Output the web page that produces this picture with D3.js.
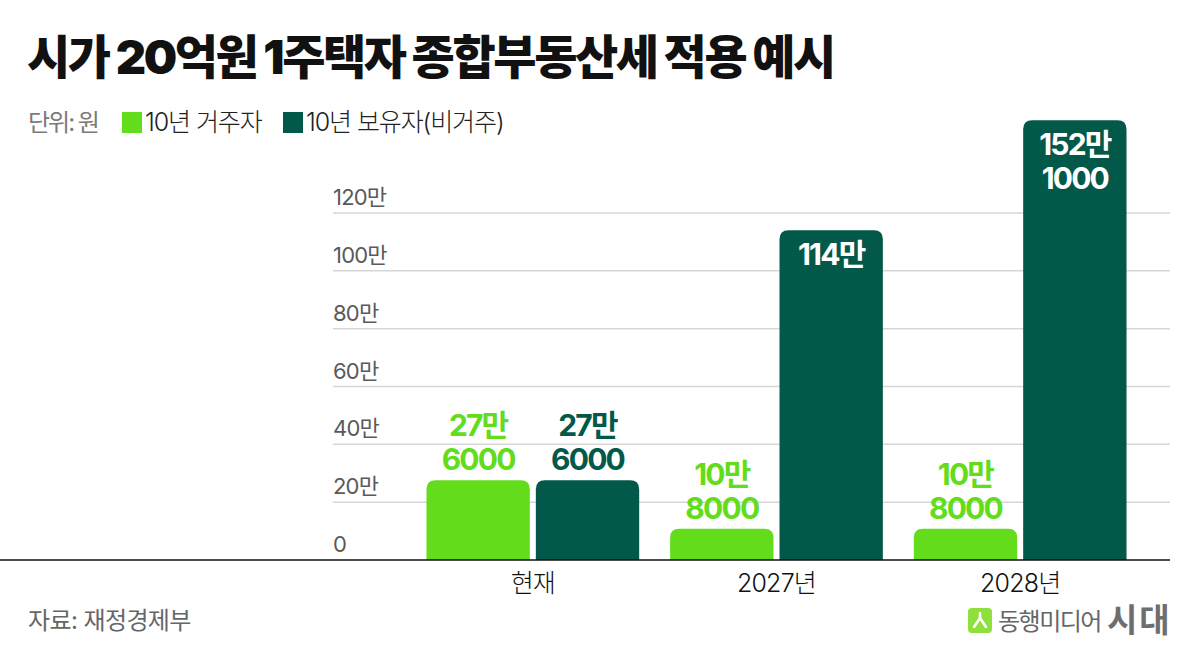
<!DOCTYPE html>
<html>
<head>
<meta charset="utf-8">
<script src="https://cdn.jsdelivr.net/npm/d3@7/dist/d3.min.js"></script>
<style>
  html, body { margin: 0; padding: 0; background: #fff; }
  svg { display: block; font-family: Inter, "Noto Sans CJK KR", sans-serif; }
</style>
</head>
<body>
<svg id="chart" width="1200" height="660"></svg>
<script>
// ---- data ----
const title = "시가 20억원 1주택자 종합부동산세 적용 예시";
const unitLabel = "단위: 원";
const categories = ["현재", "2027년", "2028년"];
const seriesNames = ["10년 거주자", "10년 보유자(비거주)"];
const residentValues = [276000, 108000, 108000];
const nonResidentValues = [276000, 1140000, 1521000];
const yTickValues = [0, 200000, 400000, 600000, 800000, 1000000, 1200000];
const sourceText = "자료: 재정경제부";
const brandText = "동행미디어";
const brandBold = "시대";

// ---- styles ----
const colors = ["#63dc1c", "#02594a"];
const svg = d3.select("#chart");

const y = d3.scaleLinear().domain([0, 1200000]).range([560, 213]);
const x0 = d3.scaleBand().domain(categories).range([411, 1142])
  .paddingInner(0.127).paddingOuter(0.0635);
const x1 = d3.scaleBand().domain(seriesNames).range([0, x0.bandwidth()]).paddingInner(0.055);

// title
svg.append("text").attr("x", 27).attr("y", 74)
  .attr("font-size", 47).attr("font-weight", 900).attr("letter-spacing", -2.4)
  .attr("fill", "#111").text(title);

// legend
svg.append("text").attr("x", 28).attr("y", 131)
  .attr("font-size", 24).attr("fill", "#7a7a7a").attr("letter-spacing", -2)
  .text(unitLabel);
const legendX = [122, 283];
seriesNames.forEach((s, i) => {
  svg.append("rect").attr("x", legendX[i]).attr("y", 112).attr("width", 20).attr("height", 21)
    .attr("fill", colors[i]);
  svg.append("text").attr("x", legendX[i] + 23).attr("y", 131)
    .attr("font-size", 25).attr("font-weight", 300).attr("letter-spacing", -1.1)
    .attr("fill", "#222").text(s);
});

// grid + y labels
const fmtTick = v => v === 0 ? "0" : (v / 10000) + "만";
const grid = svg.append("g");
yTickValues.forEach(v => {
  if (v > 0) {
    grid.append("line").attr("x1", 333).attr("x2", 1170)
      .attr("y1", y(v)).attr("y2", y(v))
      .attr("stroke", "#d6d6d6").attr("stroke-width", 1.5);
  }
  grid.append("text").attr("x", 333).attr("y", y(v) - 8)
    .attr("font-size", 22).attr("letter-spacing", -0.8).attr("fill", "#5a5a5a")
    .text(fmtTick(v));
});

// bars
function topRoundedPath(x, yTop, w, yBase, r) {
  r = Math.min(r, w / 2, (yBase - yTop));
  return `M${x},${yBase} L${x},${yTop + r} Q${x},${yTop} ${x + r},${yTop} ` +
    `L${x + w - r},${yTop} Q${x + w},${yTop} ${x + w},${yTop + r} L${x + w},${yBase} Z`;
}
const seriesValues = [residentValues, nonResidentValues];
const labelLines = v => {
  const man = Math.floor(v / 10000), rest = v % 10000;
  return rest > 0 ? [man + "만", String(rest)] : [man + "만"];
};

categories.forEach((c, ci) => {
  seriesNames.forEach((s, si) => {
    const v = seriesValues[si][ci];
    const bx = x0(c) + x1(s);
    const bw = x1.bandwidth();
    const top = y(v);
    svg.append("path").attr("d", topRoundedPath(bx, top, bw, y(0), 9)).attr("fill", colors[si]);
    const lines = labelLines(v);
    const inside = v > 1000000;
    const lh = 34;
    lines.forEach((t, li) => {
      const ty = inside ? top + 35 + li * lh : top - 10 - (lines.length - 1 - li) * lh;
      svg.append("text").attr("x", bx + bw / 2).attr("y", ty)
        .attr("text-anchor", "middle").attr("font-size", 30).attr("font-weight", 700)
        .attr("letter-spacing", -1.8)
        .attr("fill", inside ? "#fff" : colors[si]).text(t);
    });
  });
});

// baseline
svg.append("line").attr("x1", 0).attr("x2", 1170).attr("y1", y(0)).attr("y2", y(0))
  .attr("stroke", "#111").attr("stroke-width", 1.5);

// category labels
categories.forEach(c => {
  svg.append("text").attr("x", x0(c) + x0.bandwidth() / 2).attr("y", 592)
    .attr("text-anchor", "middle").attr("font-size", 25).attr("font-weight", 300)
    .attr("letter-spacing", -0.8).attr("fill", "#111").text(c);
});

// footer
svg.append("text").attr("x", 28).attr("y", 629)
  .attr("font-size", 24).attr("fill", "#666").attr("letter-spacing", -0.6)
  .text(sourceText);
const logo = svg.append("g");
logo.append("rect").attr("x", 968).attr("y", 608).attr("width", 24).attr("height", 25)
  .attr("rx", 4).attr("fill", "#8ee03a");
logo.append("path").attr("d", "M980,613 L980,618 M980,618 L974,627 M980,618 L986,627")
  .attr("stroke", "#fff").attr("stroke-width", 2.6).attr("fill", "none").attr("stroke-linecap", "round");
logo.append("text").attr("x", 998).attr("y", 630)
  .attr("font-size", 24).attr("fill", "#666").attr("letter-spacing", -1.5)
  .text(brandText);
logo.append("text").attr("x", 1107).attr("y", 632)
  .attr("font-size", 33).attr("font-weight", 700).attr("fill", "#6e6e6e").attr("letter-spacing", 2)
  .text(brandBold);
</script>
</body>
</html>
